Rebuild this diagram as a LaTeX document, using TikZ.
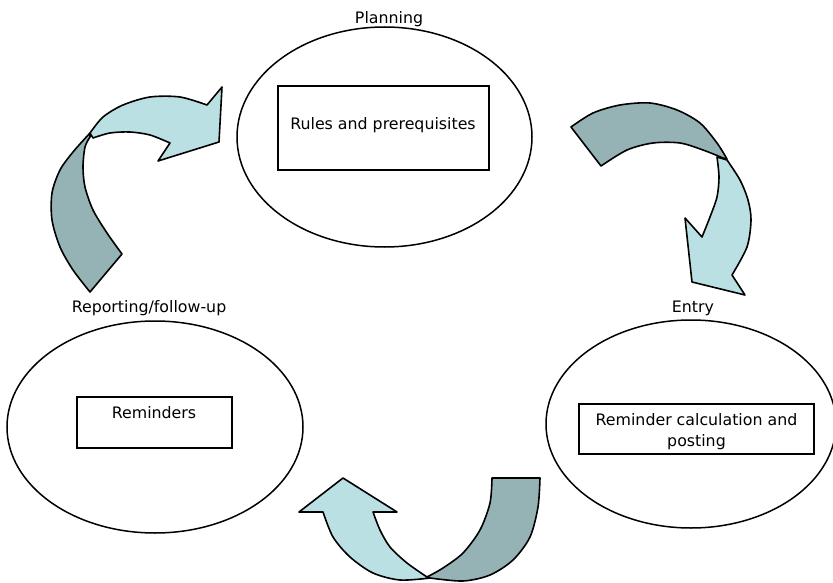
\documentclass[tikz,border=0pt]{standalone}
\usepackage{fontspec}
\setmainfont{DejaVu Sans}
\usetikzlibrary{shapes.geometric}
\definecolor{bandlight}{HTML}{BBE0E3}
\definecolor{banddark}{HTML}{95B3B5}
\begin{document}
\begin{tikzpicture}[x=1pt,y=-1pt,
  phase/.style={ellipse, draw, line width=1.5pt, inner sep=0pt},
  taskbox/.style={rectangle, draw, line width=1.9pt, inner sep=0pt},
  caption/.style={font=\fontsize{15.8}{21.7}\selectfont, anchor=base, inner sep=0pt, align=center},
  bandfront/.style={fill=bandlight, draw=black, line width=1.6pt, line join=round},
  bandback/.style={fill=banddark, draw=black, line width=1.6pt, line join=round}]
\useasboundingbox (0,0) rectangle (833,583);

% the three phases
\node[phase, minimum width=295pt, minimum height=220pt] (plan) at (384.5,137) {};
\node[phase, minimum width=290pt, minimum height=208pt] (entry) at (691,424) {};
\node[phase, minimum width=296pt, minimum height=212pt] (report) at (155,427) {};

\node[caption] (planT) at (389,24) {Planning};
\node[caption] (entryT) at (693,312.7) {Entry};
\node[caption] (reportT) at (149,312.7) {Reporting/follow-up};

% task boxes
\node[taskbox, minimum width=211pt, minimum height=84pt] (rules) at (383.5,128) {};
\node[taskbox, minimum width=235pt, minimum height=50pt] (calc) at (696.5,429) {};
\node[taskbox, minimum width=155pt, minimum height=51pt] (remind) at (154.5,422.5) {};

\node[caption] (rulesT) at (383,129.5) {Rules and prerequisites};
% a two-line base anchor sits on the last line
\node[caption] (calcT) at (696.5,446.7) {Reminder calculation and\\posting};
\node[caption] (remindT) at (154,418.3) {Reminders};

% curved arrow: reporting -> planning
\path[bandback] plot[smooth] coordinates {(90,292) (73,270) (60,247) (52,220) (52,193) (60,170) (73,152) (90,133)}
  -- plot[smooth] coordinates {(90,137) (85,147) (83,167) (85,187) (93,210) (107,233) (122,254)} -- cycle;
\path[bandfront] plot[smooth] coordinates {(90,133) (103,117) (123,105) (150,97) (180,97) (207,105)}
  -- (222,87) -- (219,142) -- (158,161) -- (170,143)
  -- plot[smooth] coordinates {(170,143) (150,135) (130,132) (110,133) (93,138)} -- cycle;

% curved arrow: planning -> entry
\path[bandback] plot[smooth] coordinates {(571,127) (593,113) (620,105) (650,103) (677,110) (700,123) (717,143) (727,159)}
  -- plot[smooth] coordinates {(723,158) (703,150) (680,143) (653,143) (627,150) (601,166)} -- cycle;
\path[bandfront] plot[smooth] coordinates {(727,160) (740,180) (748,200) (751,220) (747,247) (732,275)}
  -- (745,295) -- (692,282) -- (685,218) -- (702,237)
  -- plot[smooth] coordinates {(702,237) (710,217) (717,197) (719,177) (717,157)} -- cycle;

% curved arrow: entry -> reporting
\path[bandback] (492,478) -- (540,478)
  -- plot[smooth] coordinates {(540,478) (538,507) (530,537) (513,560) (490,575) (463,581) (430,578)}
  -- plot[smooth] coordinates {(427,577) (443,568) (463,553) (480,530) (490,503) (492,478)} -- cycle;
\path[bandfront] plot[smooth] coordinates {(430,578) (400,580) (373,573) (350,557) (333,537) (323,512)}
  -- (299,512) -- (343,478) -- (397,512) -- (373,512)
  -- plot[smooth] coordinates {(373,512) (380,530) (390,547) (407,563) (427,577)} -- cycle;
\end{tikzpicture}
\end{document}
